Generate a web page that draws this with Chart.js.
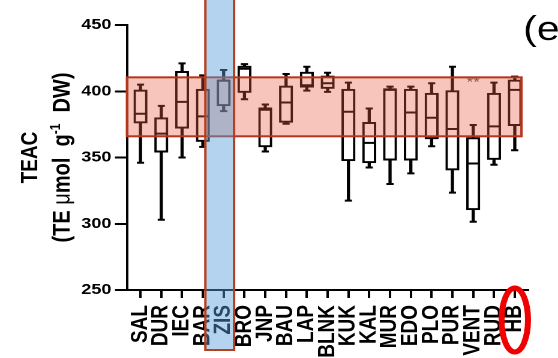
<!DOCTYPE html>
<html>
<head>
<meta charset="utf-8">
<script src="https://cdn.jsdelivr.net/npm/chart.js@4/dist/chart.umd.min.js"></script>
<style>
  html, body { margin: 0; padding: 0; background: #fff; overflow: hidden; }
  /* the figure is laid out 465px wide and widened to 558px */
  #wrap { width: 465px; height: 358px; transform: scaleX(1.2); transform-origin: 0 0; }
</style>
</head>
<body>
<div id="wrap"><canvas id="c" width="465" height="358"></canvas></div>
<script>
// Populations on the x axis
const categories = ['SAL', 'DUR', 'IEC', 'BAR', 'ZIS', 'BRO', 'JNP', 'BAU', 'LAP', 'BLNK',
                    'KUK', 'KAL', 'MUR', 'EDO', 'PLO', 'PUR', 'VENT', 'RUD', 'HB'];

// TEAC box-plot statistics (TE µmol g-1 DW)
const whiskerLow  = [346, 303, 350, 358, 385, 394, 354.5, 375.5, 400.5, 399.5, 317.5, 342.5, 330, 338, 358.5, 323.5, 301.5, 344.5, 355.5];
const boxLow      = [376, 354, 372, 362, 389, 399, 358, 376.5, 403, 402, 347.5, 346, 348, 348, 364, 340.5, 310.5, 348.5, 374];
const medians     = [383, 368, 392, 381, 408, 417, 386, 391.5, 404.5, 406, 384.5, 361, 401, 384, 380, 371.5, 345.5, 373.5, 401];
const boxHigh     = [401, 380, 415, 401.5, 408.5, 419, 387.5, 404, 414.5, 411.5, 401.5, 376.5, 402, 401.5, 398.5, 400.5, 365, 398.5, 408.5];
const whiskerHigh = [405, 389, 421, 412, 416, 420.5, 390, 413, 418.5, 414, 406.5, 387, 403.5, 403.5, 406, 418.5, 374.5, 406.5, 411];

// y axis ticks
const yTicks = [250, 300, 350, 400, 450];

// shaded TEAC range and the marked groups
const referenceBand = [366, 410.5];
const highlighted = 'ZIS';
const circled = 'HB';
const significance = { VENT: '**' };

const FONT = '"Liberation Sans", Arial, sans-serif';
const idx = name => categories.indexOf(name);

const pts = arr => arr.map((v, i) => ({ x: i, y: v }));

const annotations = {
  id: 'annotations',
  afterDraw(chart) {
    const { ctx, chartArea: area, scales: { x, y } } = chart;
    ctx.save();

    // significance stars
    ctx.fillStyle = '#555';
    ctx.font = '14px ' + FONT;
    ctx.textAlign = 'center';
    ctx.textBaseline = 'alphabetic';
    for (const [name, txt] of Object.entries(significance)) {
      ctx.fillText(txt, x.getPixelForValue(idx(name)), y.getPixelForValue(referenceBand[1]) + 9);
    }

    // shaded band
    const bx0 = area.left;
    const bx1 = x.getPixelForValue(categories.length - 1 + 0.32);
    const by0 = y.getPixelForValue(referenceBand[1]);
    const by1 = y.getPixelForValue(referenceBand[0]);
    ctx.fillStyle = 'rgba(232, 90, 60, 0.35)';
    ctx.fillRect(bx0, by0, bx1 - bx0, by1 - by0);
    ctx.strokeStyle = '#b3361c';
    ctx.lineWidth = 2;
    ctx.strokeRect(bx0, by0, bx1 - bx0, by1 - by0);

    // highlighted column
    const h = idx(highlighted);
    const cx0 = x.getPixelForValue(h - 0.88);
    const cx1 = x.getPixelForValue(h + 0.5);
    const cy1 = area.bottom + 60;
    ctx.fillStyle = 'rgba(87, 158, 218, 0.45)';
    ctx.fillRect(cx0, -4, cx1 - cx0, cy1 + 4);
    ctx.strokeStyle = '#b5401e';
    ctx.lineWidth = 2;
    ctx.strokeRect(cx0, -4, cx1 - cx0, cy1 + 4);

    // circled label
    ctx.beginPath();
    ctx.ellipse(x.getPixelForValue(idx(circled)), area.bottom + 30, 11, 32, 0, 0, Math.PI * 2);
    ctx.strokeStyle = '#f00000';
    ctx.lineWidth = 5;
    ctx.stroke();

    // y axis title, two lines
    const midY = (area.top + area.bottom) / 2;
    ctx.fillStyle = '#000';
    ctx.textBaseline = 'alphabetic';
    ctx.save();
    ctx.translate(24, midY);
    ctx.rotate(-Math.PI / 2);
    ctx.textAlign = 'center';
    ctx.font = 'bold 19px ' + FONT;
    ctx.fillText('TEAC', 0, 7);
    ctx.restore();

    const parts = [
      { t: '(TE ', f: 'bold 20px ' + FONT, dy: 0 },
      { t: 'μ', f: '20px ' + FONT, dy: 0 },
      { t: 'mol  g', f: 'bold 20px ' + FONT, dy: 0 },
      { t: '-1', f: 'bold 12px ' + FONT, dy: -8 },
      { t: '  DW)', f: 'bold 20px ' + FONT, dy: 0 }
    ];
    let total = 0;
    for (const p of parts) { ctx.font = p.f; p.w = ctx.measureText(p.t).width; total += p.w; }
    ctx.save();
    ctx.translate(51, midY);
    ctx.rotate(-Math.PI / 2);
    ctx.textAlign = 'left';
    let px = -total / 2;
    for (const p of parts) { ctx.font = p.f; ctx.fillText(p.t, px, 7 + p.dy); px += p.w; }
    ctx.restore();

    // panel letter
    ctx.font = '34px ' + FONT;
    ctx.textAlign = 'left';
    ctx.fillText('(e', 436, 40);

    ctx.restore();
  }
};

new Chart(document.getElementById('c'), {
  type: 'bar',
  data: {
    datasets: [
      {
        label: 'whiskers',
        data: categories.map((_, i) => ({ x: i, y: [whiskerLow[i], whiskerHigh[i]] })),
        backgroundColor: '#000',
        borderWidth: 0,
        barThickness: 2,
        grouped: false,
        order: 3
      },
      {
        label: 'boxes',
        data: categories.map((_, i) => ({ x: i, y: [boxLow[i], boxHigh[i]] })),
        backgroundColor: '#fff',
        borderColor: '#000',
        borderWidth: 2,
        borderSkipped: false,
        barThickness: 11,
        grouped: false,
        order: 2
      },
      {
        type: 'scatter',
        label: 'median',
        data: pts(medians),
        pointStyle: 'line',
        pointRadius: 5,
        pointBorderWidth: 2,
        pointBorderColor: '#000',
        order: 1
      },
      {
        type: 'scatter',
        label: 'caps',
        data: pts(whiskerLow).concat(pts(whiskerHigh)),
        pointStyle: 'line',
        pointRadius: 3,
        pointBorderWidth: 2,
        pointBorderColor: '#000',
        order: 1
      }
    ]
  },
  options: {
    responsive: false,
    devicePixelRatio: 2,
    animation: false,
    events: [],
    layout: { padding: { left: 0, right: 24.75, top: 25, bottom: 0 } },
    plugins: { legend: { display: false }, tooltip: { enabled: false } },
    scales: {
      x: {
        type: 'linear',
        offset: false,
        min: -0.65,
        max: categories.length - 1 + 0.65,
        afterBuildTicks: s => { s.ticks = categories.map((_, i) => ({ value: i })); },
        afterFit: s => { s.height = 68; s.paddingLeft = 0; s.paddingRight = 0; },
        grid: { offset: false, drawOnChartArea: false, drawTicks: true, tickLength: 8, tickWidth: 2, tickColor: '#000' },
        border: { display: true, color: '#000', width: 2 },
        ticks: {
          autoSkip: false,
          minRotation: 90,
          maxRotation: 90,
          padding: 7,
          color: '#000',
          font: { family: FONT, size: 19, weight: 'bold' },
          callback: v => categories[v] ?? ''
        }
      },
      y: {
        min: yTicks[0],
        max: yTicks[yTicks.length - 1],
        afterBuildTicks: s => { s.ticks = yTicks.map(v => ({ value: v })); },
        afterFit: s => { s.width = 105.8; },
        grid: { drawOnChartArea: false, drawTicks: true, tickLength: 10, tickWidth: 2, tickColor: '#000' },
        border: { display: true, color: '#000', width: 2 },
        ticks: {
          padding: 3,
          color: '#000',
          font: { family: FONT, size: 15, weight: 'bold' }
        }
      }
    }
  },
  plugins: [annotations]
});
</script>
</body>
</html>
